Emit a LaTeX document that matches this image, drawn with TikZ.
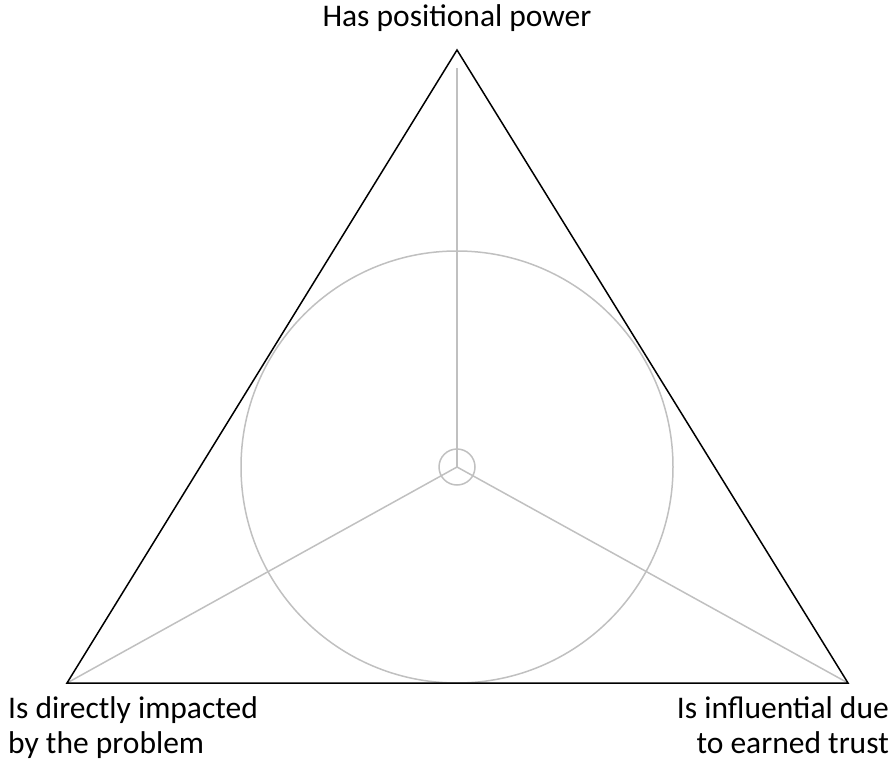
\documentclass[tikz,border=0pt]{standalone}
\usepackage{fontspec}
\setmainfont{Carlito}
\definecolor{guide}{RGB}{192,192,192}
\tikzset{
  tri/.style={draw=black,line width=1.5pt,line join=miter},
  guideline/.style={draw=guide,line width=1.5pt},
  lbl/.style={font=\fontsize{31.5}{35}\selectfont,inner sep=0pt,text=black}
}
\begin{document}
\begin{tikzpicture}[x=1pt,y=-1pt]
\useasboundingbox (0,0) rectangle (894,762);
\coordinate (A) at (457,50);
\coordinate (B) at (67,683);
\coordinate (C) at (848,683);
\coordinate (O) at (457,467);
\coordinate (Atop) at (457,68);
\draw[guideline] (O) circle[radius=216];
\draw[guideline] (O) circle[radius=18];
\draw[guideline] (Atop) -- (O);
\draw[guideline] (O) -- (B);
\draw[guideline] (O) -- (C);
\draw[tri] (A) -- (B) -- (C) -- cycle;
\node[lbl,anchor=base] (ta) at (457,27) {Has positional power};
\node[lbl,anchor=base west,align=left] (tb) at (8,753) {Is directly impacted\\by the problem};
\node[lbl,anchor=base east,align=right] (tc) at (889,753) {Is influential due\\to earned trust};
\end{tikzpicture}
\end{document}
